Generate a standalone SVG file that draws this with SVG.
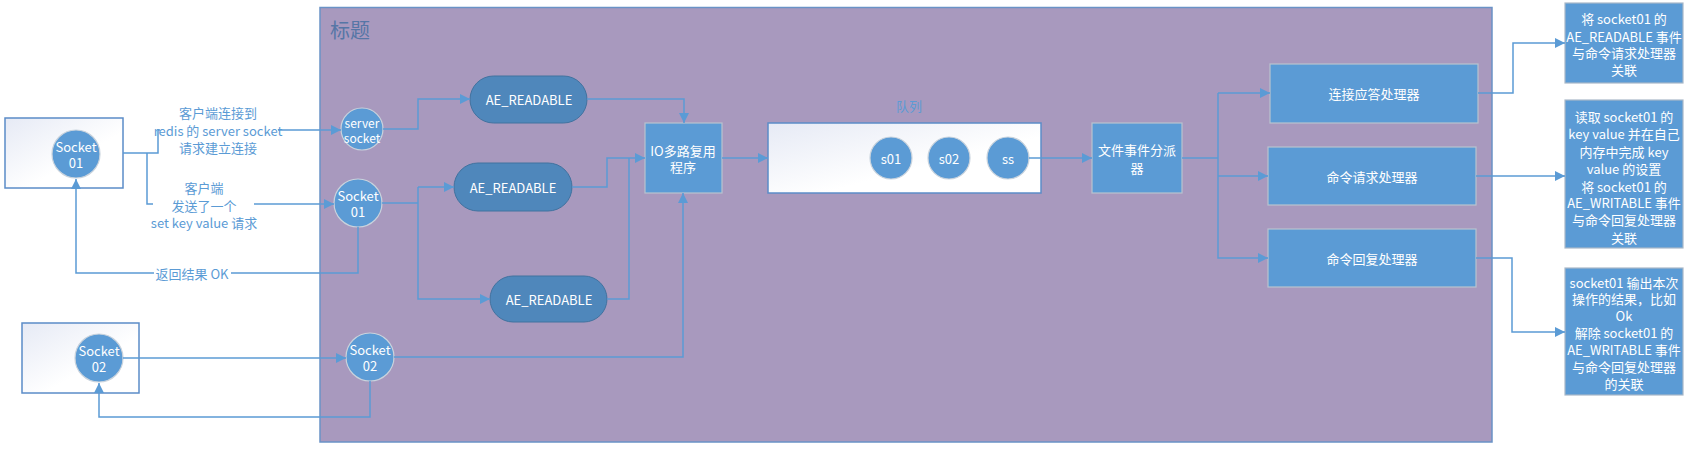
<svg xmlns="http://www.w3.org/2000/svg" width="1694" height="452" viewBox="0 0 1694 452">
<defs>
<style>
text{font-family:"Segoe UI","Noto Sans CJK SC","Noto Sans",sans-serif;dominant-baseline:central;text-anchor:middle;}
.w{fill:#ffffff;font-size:13px;}
.lbl{fill:#5B9BD5;font-size:13px;}
.ln{fill:none;stroke:#5B9BD5;stroke-width:1.5;}
.arr{marker-end:url(#ah);}
.circ{fill:#5B9BD5;stroke:#C9D3DD;stroke-width:1.2;}
.pill{fill:#4F87BB;stroke:#41729F;stroke-width:1;}
.box{fill:#5B9BD5;stroke:#B9C4CF;stroke-width:1.2;}
.rbox{fill:#5B9BD5;stroke:#A9B8C8;stroke-width:1.2;}
.outer{fill:url(#wg);stroke:#5B8CC8;stroke-width:1.5;}
</style>
<linearGradient id="wg" x1="0" y1="0" x2="1" y2="1">
<stop offset="0" stop-color="#E6EAF5"/>
<stop offset="0.6" stop-color="#FFFFFF"/>
</linearGradient>
<marker id="ah" viewBox="0 0 10 10" refX="10" refY="5" markerWidth="10" markerHeight="10" markerUnits="userSpaceOnUse" orient="auto">
<path d="M0 0 L10 5 L0 10 Z" fill="#5B9BD5"/>
</marker>
</defs>

<g id="container">
<rect x="320" y="7.5" width="1172" height="434.5" fill="#A899BE" stroke="#6A92C6" stroke-width="1.5"/>
<text x="330" y="29" style="font-size:20px;fill:#5676A6;text-anchor:start;">标题</text>
</g>

<g id="client-socket01">
<rect class="outer" x="5" y="118" width="118" height="70"/>
<circle class="circ" cx="76" cy="154" r="24"/>
<text class="w" x="76" y="146">Socket</text>
<text class="w" x="76" y="162">01</text>
</g>

<g id="client-socket02">
<rect class="outer" x="22" y="323" width="117" height="70"/>
<circle class="circ" cx="99" cy="358" r="24"/>
<text class="w" x="99" y="350">Socket</text>
<text class="w" x="99" y="366">02</text>
</g>

<g id="server-socket">
<circle class="circ" cx="362" cy="129" r="21"/>
<text class="w" x="362" y="122" style="font-size:12px">server</text>
<text class="w" x="362" y="137" style="font-size:12px">socket</text>
</g>

<g id="socket01">
<circle class="circ" cx="358" cy="203" r="24"/>
<text class="w" x="358" y="195">Socket</text>
<text class="w" x="358" y="211">01</text>
</g>

<g id="socket02">
<circle class="circ" cx="370" cy="357" r="24"/>
<text class="w" x="370" y="349">Socket</text>
<text class="w" x="370" y="365">02</text>
</g>

<g id="ae-readable-1">
<rect class="pill" x="470" y="76" width="117" height="47" rx="23.5"/>
<text class="w" x="529" y="99">AE_READABLE</text>
</g>
<g id="ae-readable-2">
<rect class="pill" x="454" y="163" width="118" height="48" rx="24"/>
<text class="w" x="513" y="187">AE_READABLE</text>
</g>
<g id="ae-readable-3">
<rect class="pill" x="490" y="276" width="117" height="46" rx="23"/>
<text class="w" x="549" y="299">AE_READABLE</text>
</g>

<g id="io-multiplexer">
<rect class="box" x="645" y="123" width="77" height="70"/>
<text class="w" x="683" y="150">IO多路复用</text>
<text class="w" x="683" y="166">程序</text>
</g>

<g id="queue">
<text class="lbl" x="909" y="105">队列</text>
<rect class="outer" x="768" y="123" width="273" height="70"/>
<circle class="circ" cx="891" cy="158" r="21"/>
<text class="w" x="891" y="158">s01</text>
<circle class="circ" cx="949" cy="158" r="21"/>
<text class="w" x="949" y="158">s02</text>
<circle class="circ" cx="1008" cy="158" r="21"/>
<text class="w" x="1008" y="158">ss</text>
</g>

<g id="dispatcher">
<rect class="box" x="1092" y="123" width="90" height="70"/>
<text class="w" x="1137" y="149">文件事件分派</text>
<text class="w" x="1137" y="167">器</text>
</g>

<g id="accept-handler">
<rect class="box" x="1270" y="64" width="208" height="59"/>
<text class="w" x="1374" y="93">连接应答处理器</text>
</g>
<g id="request-handler">
<rect class="box" x="1268" y="147" width="208" height="58"/>
<text class="w" x="1372" y="176">命令请求处理器</text>
</g>
<g id="reply-handler">
<rect class="box" x="1268" y="229" width="208" height="58"/>
<text class="w" x="1372" y="258">命令回复处理器</text>
</g>

<g id="note-1">
<rect class="rbox" x="1565" y="3" width="118" height="80"/>
<text class="w" x="1624" y="18">将 socket01 的</text>
<text class="w" x="1624" y="36">AE_READABLE 事件</text>
<text class="w" x="1624" y="52">与命令请求处理器</text>
<text class="w" x="1624" y="69">关联</text>
</g>
<g id="note-2">
<rect class="rbox" x="1565" y="100" width="118" height="148"/>
<text class="w" x="1624" y="116">读取 socket01 的</text>
<text class="w" x="1624" y="133">key value 并在自己</text>
<text class="w" x="1624" y="151">内存中完成 key</text>
<text class="w" x="1624" y="168">value 的设置</text>
<text class="w" x="1624" y="186">将 socket01 的</text>
<text class="w" x="1624" y="202">AE_WRITABLE 事件</text>
<text class="w" x="1624" y="219">与命令回复处理器</text>
<text class="w" x="1624" y="237">关联</text>
</g>
<g id="note-3">
<rect class="rbox" x="1565" y="268" width="118" height="127"/>
<text class="w" x="1624" y="282">socket01 输出本次</text>
<text class="w" x="1624" y="298">操作的结果，比如</text>
<text class="w" x="1624" y="315">Ok</text>
<text class="w" x="1624" y="332">解除 socket01 的</text>
<text class="w" x="1624" y="349">AE_WRITABLE 事件</text>
<text class="w" x="1624" y="366">与命令回复处理器</text>
<text class="w" x="1624" y="383">的关联</text>
</g>

<g id="connectors">
<path class="ln arr" d="M123 153 H158 V130 H341"/>
<path class="ln" d="M147 153 V204 H153"/>
<path class="ln arr" d="M254 204 H334"/>
<path class="ln" d="M358 227 V273 H231"/>
<path class="ln arr" d="M154 273 H76 V179"/>
<path class="ln arr" d="M123 358 H346"/>
<path class="ln arr" d="M370 381 V417 H99 V383"/>
<path class="ln arr" d="M383 129 H418 V99 H470"/>
<path class="ln arr" d="M587 99 H684 V123"/>
<path class="ln" d="M382 203 H418"/>
<path class="ln arr" d="M418 187 H454"/>
<path class="ln arr" d="M418 187 V299 H490"/>
<path class="ln arr" d="M572 187 H607 V158 H645"/>
<path class="ln" d="M607 299 H629 V158"/>
<path class="ln arr" d="M394 357 H683 V193"/>
<path class="ln arr" d="M722 158 H768"/>
<path class="ln arr" d="M1029 158 H1092"/>
<path class="ln" d="M1182 158 H1218"/>
<path class="ln arr" d="M1218 93 H1270"/>
<path class="ln arr" d="M1218 93 V258 H1268"/>
<path class="ln arr" d="M1218 176 H1268"/>
<path class="ln arr" d="M1478 93 H1513 V43 H1565"/>
<path class="ln arr" d="M1476 176 H1565"/>
<path class="ln arr" d="M1476 258 H1512 V332 H1565"/>
</g>

<g id="label-connect">
<rect x="160" y="123" width="118" height="14" fill="#ffffff"/>
<text class="lbl" x="218" y="112">客户端连接到</text>
<text class="lbl" x="218" y="130">redis 的 server socket</text>
<text class="lbl" x="218" y="147">请求建立连接</text>
</g>
<g id="label-send">
<text class="lbl" x="204" y="187">客户端</text>
<text class="lbl" x="204" y="205">发送了一个</text>
<text class="lbl" x="204" y="222">set key value 请求</text>
</g>
<g id="label-return">
<text class="lbl" x="192" y="273">返回结果  OK</text>
</g>
</svg>
